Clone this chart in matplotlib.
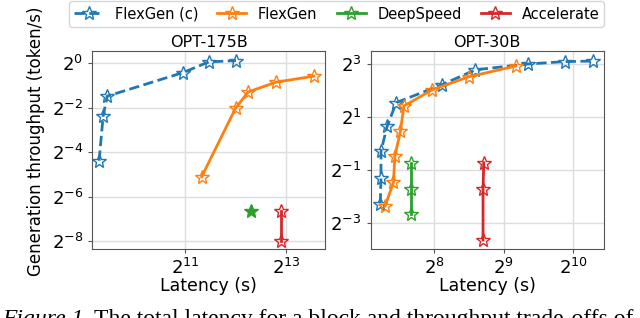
import matplotlib.pyplot as plt
import numpy as np
from matplotlib.lines import Line2D

plt.rcParams.update({
    "font.family": "DejaVu Sans",
    "font.size": 12.5,
})

# OPT-175B (log2 of latency / throughput)
l175_flexc_x = [9.30, 9.38, 9.46, 10.96, 11.47, 12.01]
l175_flexc_y = [-4.38, -2.37, -1.48, -0.42, 0.06, 0.12]
l175_flex_x = [11.33, 12.00, 12.25, 12.80, 13.55]
l175_flex_y = [-5.10, -2.02, -1.29, -0.85, -0.58]
l175_ds_x = [12.30]
l175_ds_y = [-6.66]
l175_acc_x = [12.89, 12.89]
l175_acc_y = [-6.66, -7.98]

# OPT-30B
l30_flexc_x = [7.22, 7.23, 7.23, 7.32, 7.45, 8.11, 8.59, 9.35, 9.88, 10.29]
l30_flexc_y = [-2.27, -1.31, -0.30, 0.66, 1.54, 2.22, 2.78, 3.00, 3.09, 3.11]
l30_flex_x = [7.29, 7.41, 7.43, 7.51, 7.56, 7.97, 8.50, 9.17]
l30_flex_y = [-2.36, -1.47, -0.48, 0.46, 1.41, 2.03, 2.52, 2.92]
l30_ds_x = [7.66, 7.66, 7.66]
l30_ds_y = [-0.73, -1.73, -2.67]
l30_acc_x = [8.71, 8.70, 8.70]
l30_acc_y = [-0.73, -1.73, -3.65]

C_BLUE, C_ORANGE, C_GREEN, C_RED = "#1f77b4", "#ff7f0e", "#2ca02c", "#d62728"


def p2(v):
    return np.power(2.0, np.asarray(v, dtype=float))


fig = plt.figure(figsize=(6.4, 3.18), dpi=100)
ax1 = fig.add_axes([0.1438, 0.216, 0.364, 0.6236])
ax2 = fig.add_axes([0.579, 0.216, 0.3645, 0.6236])

panels = [
    (ax1, "OPT-175B",
     [(l175_flexc_x, l175_flexc_y), (l175_flex_x, l175_flex_y),
      (l175_ds_x, l175_ds_y), (l175_acc_x, l175_acc_y)],
     (9.16, 13.77), (-8.36, 0.55), [11, 13], [-8, -6, -4, -2, 0]),
    (ax2, "OPT-30B",
     [(l30_flexc_x, l30_flexc_y), (l30_flex_x, l30_flex_y),
      (l30_ds_x, l30_ds_y), (l30_acc_x, l30_acc_y)],
     (7.08, 10.44), (-4.0, 3.49), [8, 9, 10], [-3, -1, 1, 3]),
]

styles = [
    dict(color=C_BLUE, ls="--", label="FlexGen (c)"),
    dict(color=C_ORANGE, ls="-", label="FlexGen"),
    dict(color=C_GREEN, ls="-", label="DeepSpeed"),
    dict(color=C_RED, ls="-", label="Accelerate"),
]

for ax, title, series, xl, yl, xt, yt in panels:
    ax.set_xscale("log", base=2)
    ax.set_yscale("log", base=2)
    for (xs, ys), st in zip(series, styles):
        mfc = st["color"] if len(xs) == 1 else "none"
        ax.plot(p2(xs), p2(ys), marker="*", ms=10, lw=2, mfc=mfc,
                mew=1.0, **st)
    ax.set_xlim(p2(xl[0]), p2(xl[1]))
    ax.set_ylim(p2(yl[0]), p2(yl[1]))
    ax.set_xticks(p2(xt))
    ax.set_xticklabels([f"$2^{{{t}}}$" for t in xt])
    ax.set_yticks(p2(yt))
    ax.set_yticklabels([f"$2^{{{t}}}$" for t in yt])
    ax.minorticks_off()
    ax.tick_params(labelsize=13, length=3, color="#555555")
    ax.grid(True, color="#dddddd", lw=1)
    ax.set_axisbelow(True)
    for s in ax.spines.values():
        s.set_color("#555555")
    ax.set_title(title, fontsize=11.5, pad=3)
    ax.set_xlabel("Latency (s)", fontsize=12.5, labelpad=-1)

fig.text(0.056, 0.555, "Generation throughput (token/s)", rotation=90,
         ha="center", va="center", fontsize=12)

handles = [Line2D([], [], marker="*", ms=10, lw=2, mfc="none", mew=1.0, **st)
           for st in styles]
fig.legend(handles=handles, loc="upper center", ncol=4, fontsize=10.5,
           bbox_to_anchor=(0.526, 1.0), borderaxespad=0.1,
           handlelength=2.0, columnspacing=1.3, handletextpad=0.8,
           borderpad=0.35)

# caption, cut off at the bottom edge as in the source
t1 = fig.text(0.003, 0.027, "Figure 1.", fontsize=17,
              family="Liberation Serif", style="italic", va="top")
fig.canvas.draw()
bb = t1.get_window_extent().transformed(fig.transFigure.inverted())
fig.text(bb.x1 + 0.008, 0.027,
         "The total latency for a block and throughput trade-offs of",
         fontsize=17, family="Liberation Serif", va="top")

fig.savefig("out.png", dpi=100)
